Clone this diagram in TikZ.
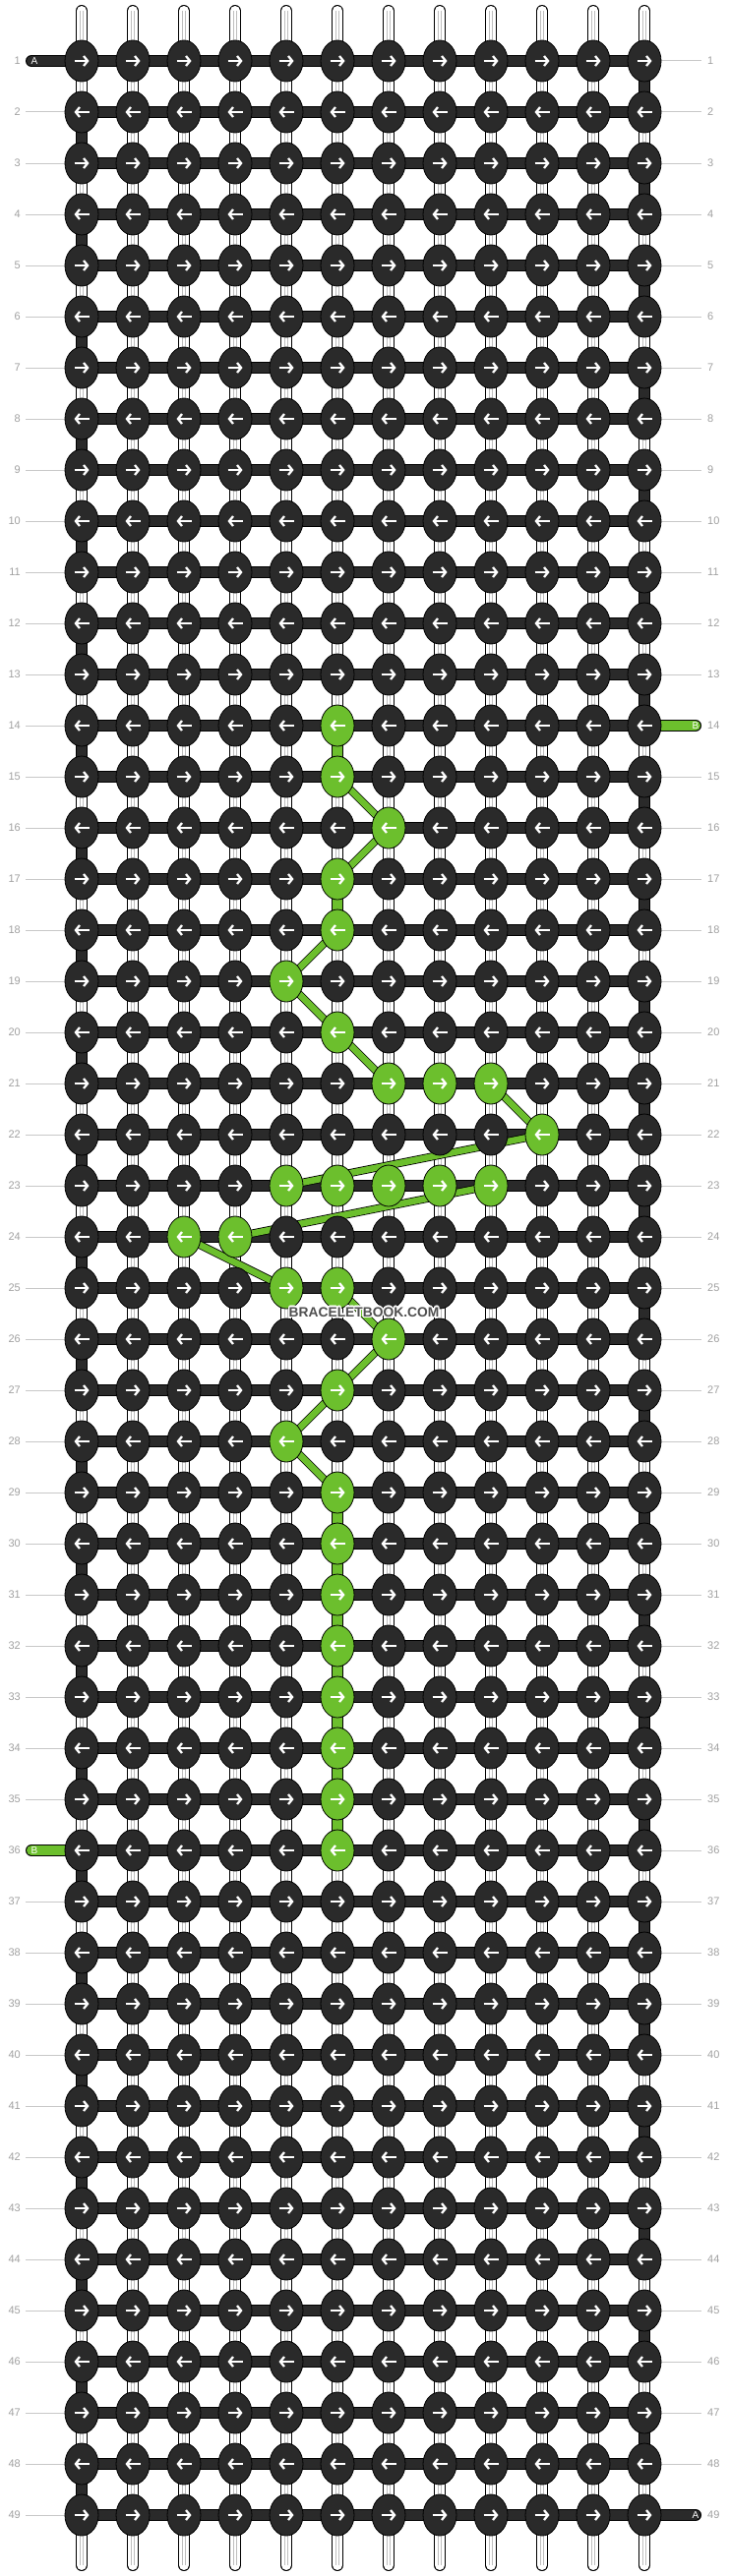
\documentclass[tikz,border=0pt]{standalone}
\usepackage{fontspec}
\setmainfont{Liberation Sans}
\usepackage[copies]{contour}
\usetikzlibrary{shapes.geometric,arrows.meta}

\definecolor{knotdark}{RGB}{42,42,42}
\definecolor{knotgreen}{RGB}{108,191,45}
\definecolor{numgray}{RGB}{160,160,160}
\definecolor{linegray}{RGB}{200,200,200}
\definecolor{tubegray}{RGB}{190,190,190}
\definecolor{markgray}{RGB}{80,80,80}

\pgfdeclarelayer{tubes}
\pgfdeclarelayer{bands}
\pgfdeclarelayer{threads}
\pgfsetlayers{tubes,bands,threads,main}

\contourlength{1.2pt}

\tikzset{
	knot/.style={ellipse, draw=black, line width=0.8pt, minimum width=34pt, minimum height=42pt, inner sep=0pt},
	knotarrow/.style={white, line width=2.3pt, -{Straight Barb[length=4pt,width=10pt]}},
	tube/.style={draw=black, line width=1pt, double=white, double distance=10pt, line cap=round},
	tubeline/.style={draw=tubegray, line width=1pt, double=white, double distance=1.6pt},
	band/.style={draw=black, line width=1pt, double=knotdark, double distance=10pt},
	gbar/.style={draw=black, line width=1pt, double=knotgreen, double distance=10pt},
	gline/.style={draw=black, line width=0.8pt, double=knotgreen, double distance=6.5pt},
	tail/.style={band, line cap=round},
	gtail/.style={gbar, line cap=round},
	taillabel/.style={text=white, font=\fontsize{10}{10}\selectfont, inner sep=0pt},
	rownum/.style={text=numgray, font=\fontsize{11}{11}\selectfont, inner sep=0pt},
	numline/.style={draw=linegray, line width=1pt},
	wmark/.style={text=markgray, font=\fontsize{13.8}{14}\selectfont\bfseries, inner sep=0pt}
}

\def\greenknots{14-6,15-6,16-7,17-6,18-6,19-5,20-6,21-7,21-8,21-9,22-10,23-5,23-6,23-7,23-8,23-9,24-3,24-4,25-5,25-6,26-7,27-6,28-5,29-6,30-6,31-6,32-6,33-6,34-6,35-6,36-6}

\begin{document}
\begin{tikzpicture}[x=1pt,y=-1pt]
	\useasboundingbox (0,0) rectangle (740,2620);

	\foreach \g in \greenknots {\expandafter\xdef\csname gk\g\endcsname{1}}

	\foreach \r in {1,...,49} {
		\foreach \c in {1,...,12} {
			\ifcsname gk\r-\c\endcsname\def\kfill{knotgreen}\else\def\kfill{knotdark}\fi
			\node[knot, fill=\kfill] (n\r-\c) at ({83+52*(\c-1)},{62+52*(\r-1)}) {};
			\ifodd\r
				\draw[knotarrow] ([xshift=-7.5pt]n\r-\c.center) -- ([xshift=7.5pt]n\r-\c.center);
			\else
				\draw[knotarrow] ([xshift=7.5pt]n\r-\c.center) -- ([xshift=-7.5pt]n\r-\c.center);
			\fi
		}
		\node[rownum, anchor=east] (ln\r) at (21,{62+52*(\r-1)}) {\r};
		\node[rownum, anchor=west] (rn\r) at (719,{62+52*(\r-1)}) {\r};
	}

	\begin{pgfonlayer}{tubes}
		\foreach \c in {1,...,12} {
			\coordinate (tt\c) at ({83+52*(\c-1)},11);
			\coordinate (tb\c) at ({83+52*(\c-1)},2609);
			\draw[tube] (tt\c) -- (tb\c);
			\draw[tubeline] (tt\c) -- (tb\c);
		}
		\foreach \r in {1,...,49} {
			\ifnum\r=1 \else\ifnum\r=36 \else
				\draw[numline] ([xshift=5pt]ln\r.east) -- (n\r-1.west);
			\fi\fi
			\ifnum\r=14 \else\ifnum\r=49 \else
				\draw[numline] (n\r-12.east) -- ([xshift=-6pt]rn\r.west);
			\fi\fi
		}
	\end{pgfonlayer}

	\begin{pgfonlayer}{bands}
		\foreach \r in {1,...,49}
			\draw[band] (n\r-1.center) -- (n\r-12.center);
		\foreach \r in {2,4,...,48} {
			\pgfmathtruncatemacro\s{\r+1}
			\draw[band] (n\r-1.center) -- (n\s-1.center);
		}
		\foreach \r in {1,3,...,47} {
			\pgfmathtruncatemacro\s{\r+1}
			\draw[band] (n\r-12.center) -- (n\s-12.center);
		}
		\coordinate (astart) at (32,62);
		\coordinate (aend) at (707,2558);
		\draw[tail] (astart) -- (n1-1.center);
		\draw[tail] (n49-12.center) -- (aend);
		\node[taillabel] (alabin) at (35,62) {A};
		\node[taillabel] (alabout) at (707,2558) {A};
	\end{pgfonlayer}

	\begin{pgfonlayer}{threads}
		\foreach \a/\b in {14-6/15-6,17-6/18-6,29-6/30-6,30-6/31-6,31-6/32-6,32-6/33-6,33-6/34-6,34-6/35-6,35-6/36-6}
			\draw[gbar] (n\a.center) -- (n\b.center);
		\foreach \a/\b in {15-6/16-7,16-7/17-6,18-6/19-5,19-5/20-6,20-6/21-7,21-9/22-10,22-10/23-5,23-9/24-4,24-3/25-5,25-6/26-7,26-7/27-6,27-6/28-5,28-5/29-6}
			\draw[gline] (n\a.center) -- (n\b.center);
		\coordinate (bstart) at (32,1882);
		\coordinate (bend) at (707,738);
		\draw[gtail] (bstart) -- (n36-1.center);
		\draw[gtail] (n14-12.center) -- (bend);
		\node[taillabel] (blabin) at (35,1882) {B};
		\node[taillabel] (blabout) at (707,738) {B};
	\end{pgfonlayer}

	\node[wmark] (brand) at (370,1335) {\contour{white}{BRACELETBOOK.COM}};
\end{tikzpicture}
\end{document}
